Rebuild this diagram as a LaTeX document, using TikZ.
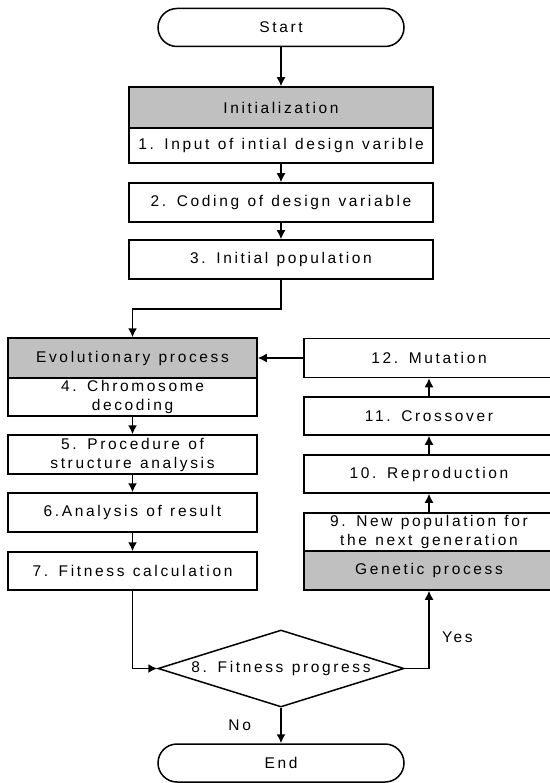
\documentclass[tikz,border=0pt]{standalone}
\usepackage{fontspec}
\setmainfont{Liberation Sans}[LetterSpace=17, WordSpace=1.2]
\usetikzlibrary{arrows.meta,shapes.geometric}
\definecolor{boxgray}{RGB}{192,192,192}

\begin{document}
\begin{tikzpicture}[x=1pt, y=-1pt, >={Latex[length=9pt,width=9pt]}, line width=1.5pt,
		font=\fontsize{15.5}{19}\selectfont,
		box/.style={draw, rectangle, inner sep=0pt, align=center},
		topbox/.style={box, minimum width=304pt},
		leftbox/.style={box, minimum width=249pt},
		rightbox/.style={box, minimum width=250pt},
		shaded/.style={fill=boxgray},
		terminal/.style={draw, rectangle, rounded corners=19pt, minimum width=246pt, minimum height=38pt},
		decision/.style={draw, diamond, aspect=3.2, inner sep=0pt, minimum width=246pt, minimum height=77pt}]
	\useasboundingbox (0,0) rectangle (549,783);
	
	\node[terminal] (start) at (281,27.5) {Start};
	\node[topbox, shaded, minimum height=41pt] (init) at (281,107.5) {Initialization};
	\node[topbox, minimum height=35pt] (s1) at (281,145.5) {1. Input of intial design varible};
	\node[topbox, minimum height=39pt] (s2) at (281,202.5) {2. Coding of design variable};
	\node[topbox, minimum height=39pt] (s3) at (281,259.5) {3. Initial population};
	
	\node[leftbox, shaded, minimum height=40pt] (evo) at (132.5,358) {Evolutionary process};
	\node[leftbox, minimum height=38pt] (s4) at (132.5,397) {4. Chromosome\\decoding};
	\node[leftbox, minimum height=39pt] (s5) at (132.5,454.5) {5. Procedure of\\structure analysis};
	\node[leftbox, minimum height=39pt] (s6) at (132.5,512.5) {6.Analysis of result};
	\node[leftbox, minimum height=38pt] (s7) at (132.5,571) {7. Fitness calculation};
	
	\node[rightbox, minimum height=39pt] (s12) at (429,358) {12. Mutation};
	\node[rightbox, minimum height=38pt] (s11) at (429,416) {11. Crossover};
	\node[rightbox, minimum height=38pt] (s10) at (429,474) {10. Reproduction};
	\node[rightbox, minimum height=38pt] (s9) at (429,532) {9. New population for\\the next generation};
	\node[rightbox, shaded, minimum height=39pt] (gen) at (429,570.5) {Genetic process};
	
	\node[decision] (fit) at (281,668.5) {8. Fitness progress};
	\node[terminal] (end) at (281,763) {End};
	
	\draw[->] (start) -- (init);
	\draw[->] (s1) -- (s2);
	\draw[->] (s2) -- (s3);
	\draw[->] (s3.south) -- ++(0,29) -| (evo.north);
	
	\draw[->] (s4) -- (s5);
	\draw[->] (s5) -- (s6);
	\draw[->] (s6) -- (s7);
	\draw[->] (s7.south) |- (fit.west);
	
	\draw[->] (fit.east) -| (gen.south) node[pos=0.7, anchor=west, xshift=9pt] {Yes};
	\draw[->] (s9) -- (s10);
	\draw[->] (s10) -- (s11);
	\draw[->] (s11) -- (s12);
	\draw[->] (s12) -- (evo);
	
	\draw[->] (fit) -- (end) node[midway, anchor=east, xshift=-26pt] {No};
\end{tikzpicture}
\end{document}
